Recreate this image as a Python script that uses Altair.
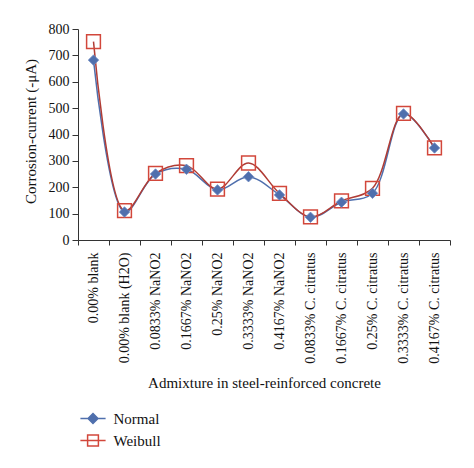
import altair as alt
import pandas as pd

categories = [
    "0.00% blank", "0.00% blank (H2O)",
    "0.0833% NaNO2", "0.1667% NaNO2", "0.25% NaNO2", "0.3333% NaNO2", "0.4167% NaNO2",
    "0.0833% C. citratus", "0.1667% C. citratus", "0.25% C. citratus",
    "0.3333% C. citratus", "0.4167% C. citratus",
]
normal = [682, 106, 250, 268, 190, 240, 171, 86, 143, 177, 478, 349]
weibull = [752, 111, 253, 282, 193, 292, 177, 88, 148, 196, 480, 349]
series = ["Normal", "Weibull"]

BLUE = "#4f6fad"
RED = "#d2473b"
RED_LINE = "#b03c35"
FONT = "Liberation Serif"

df = pd.DataFrame({
    "cat": categories * 2,
    "series": ["Normal"] * len(categories) + ["Weibull"] * len(categories),
    "value": normal + weibull,
})

xscale = alt.Scale(type="band", domain=categories, paddingInner=0, paddingOuter=0)
yscale = alt.Scale(domain=[0, 800])

# one shared axis object per channel, given to every layer so they merge cleanly
x_axis = alt.Axis(
    title="Admixture in steel-reinforced concrete", titleFont=FONT, titleFontSize=15,
    titleFontWeight="normal", titleColor="#111", titlePadding=12,
    labelAngle=-90, labelFont=FONT, labelFontSize=14, labelColor="#111", labelPadding=7,
    tickBand="extent", tickSize=5, tickColor="#333", domainColor="#333", grid=False,
)
y_axis = alt.Axis(
    title="Corrosion-current (-\u03bcA)", titleFont=FONT, titleFontSize=15,
    titleFontWeight="normal", titleColor="#111", titleX=-48, titleY=102,
    titleBaseline="middle",
    values=list(range(0, 801, 100)), labelFont=FONT, labelFontSize=14, labelColor="#111",
    labelPadding=3, tickSize=6, tickColor="#333", domainColor="#333", grid=False,
)

x_enc = alt.X("cat:N", scale=xscale, axis=x_axis)
y_enc = alt.Y("value:Q", scale=yscale, axis=y_axis)

base = alt.Chart(df)

line_n = base.transform_filter("datum.series == 'Normal'").mark_line(
    color=BLUE, strokeWidth=1.5, interpolate="catmull-rom"
).encode(x=x_enc, y=y_enc)
line_w = base.transform_filter("datum.series == 'Weibull'").mark_line(
    color=RED_LINE, strokeWidth=1.5, interpolate="catmull-rom"
).encode(x=x_enc, y=y_enc)
pts_w = base.transform_filter("datum.series == 'Weibull'").mark_point(
    shape="square", size=190, filled=False, stroke=RED, strokeWidth=1.5, opacity=1
).encode(x=x_enc, y=y_enc)
pts_n = base.transform_filter("datum.series == 'Normal'").mark_point(
    shape="diamond", size=110, filled=True, fill=BLUE, stroke="#6f8cc4",
    strokeWidth=0.8, opacity=1
).encode(x=x_enc, y=y_enc)

legend = alt.Legend(
    title=None, orient="none", legendX=7.5, legendY=382, padding=0,
    labelFont=FONT, labelFontSize=15, labelColor="#111", labelOffset=13,
    symbolSize=81, symbolStrokeWidth=1.5, rowPadding=5,
)
legend_paths = [
    "M-2.8,0L2.8,0M0,-1.1L1.1,0L0,1.1L-1.1,0Z",
    "M-2.8,0L2.8,0M-1.2,-1.2L1.2,-1.2L1.2,1.2L-1.2,1.2Z",
]
# empty layer that only carries the legend (line + marker symbols)
legend_layer = base.transform_filter("false").mark_point(opacity=1, filled=False).encode(
    shape=alt.Shape("series:N", scale=alt.Scale(domain=series, range=legend_paths), legend=legend),
    stroke=alt.Stroke("series:N", scale=alt.Scale(domain=series, range=[BLUE, RED]), legend=legend),
    fill=alt.Fill("series:N", scale=alt.Scale(domain=series, range=[BLUE, "transparent"]), legend=legend),
)

chart = alt.layer(line_n, line_w, pts_w, pts_n, legend_layer).properties(
    width=372, height=211, autosize="none",
    padding={"left": 70, "top": 21, "right": 16, "bottom": 220},
).configure(
    font=FONT
).configure_view(
    stroke=None
).configure_legend(
    labelFont=FONT, labelFontSize=15, labelColor="#111", labelOffset=13
)

chart.save("out.html", embed_options={"renderer": "svg", "actions": False})
